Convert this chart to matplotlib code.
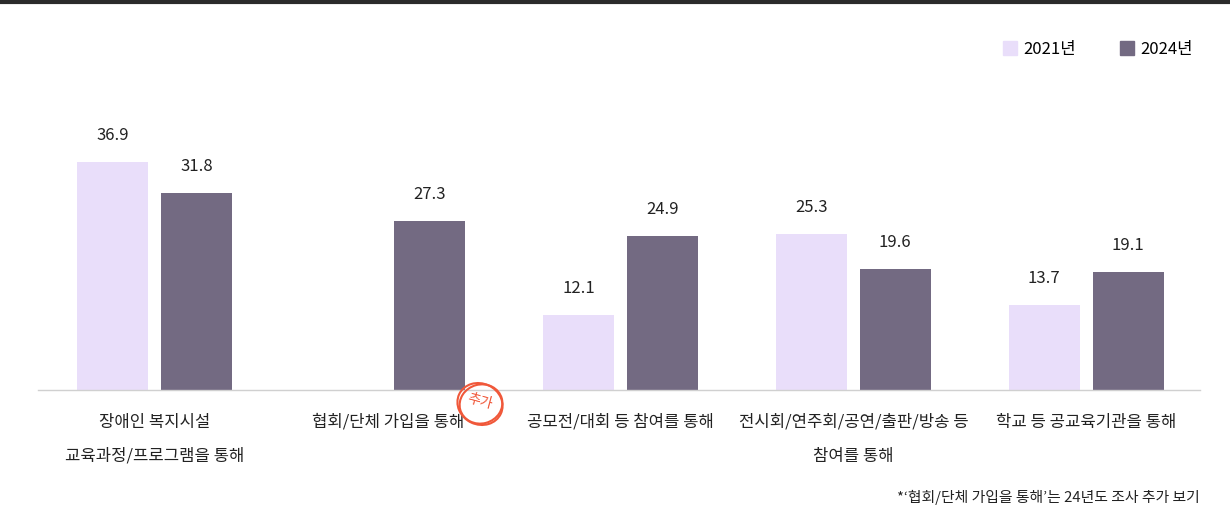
import numpy as np
import matplotlib.pyplot as plt
from matplotlib.patches import Ellipse

plt.rcParams['font.family'] = ['Noto Sans CJK KR', 'DejaVu Sans']

categories = ['장애인 복지시설\n교육과정/프로그램을 통해',
              '협회/단체 가입을 통해',
              '공모전/대회 등 참여를 통해',
              '전시회/연주회/공연/출판/방송 등\n참여를 통해',
              '학교 등 공교육기관을 통해']
y2021 = [36.9, np.nan, 12.1, 25.3, 13.7]
y2024 = [31.8, 27.3, 24.9, 19.6, 19.1]
series_names = ['2021년', '2024년']
colors = ['#E9DEFA', '#736A82']

W, H = 1230, 514
fig = plt.figure(figsize=(W / 100, H / 100), dpi=100)
ax = fig.add_axes([38 / W, (H - 390) / H, (1200 - 38) / W, 370 / H])

x = np.arange(len(categories))
bw = 0.305
off = 0.18
b1 = ax.bar(x - off, y2021, bw, color=colors[0], label=series_names[0])
b2 = ax.bar(x + off, y2024, bw, color=colors[1], label=series_names[1])

for bars, vals in ((b1, y2021), (b2, y2024)):
    for rect, v in zip(bars, vals):
        if np.isnan(v):
            continue
        ax.annotate(f'{v:.1f}', (rect.get_x() + rect.get_width() / 2, v),
                    xytext=(0, 13), textcoords='offset points',
                    ha='center', va='bottom', fontsize=12, color='#222222')

ax.set_xlim(-0.502, 4.489)
ax.set_ylim(0, 370 / 6.18)
for s in ['top', 'right', 'left']:
    ax.spines[s].set_visible(False)
ax.spines['bottom'].set_color('#d0d0d0')
ax.spines['bottom'].set_linewidth(1)
ax.set_yticks([])
ax.set_xticks(x)
ax.set_xticklabels(categories, fontsize=12, color='#222222', linespacing=2.3, va='top')
ax.tick_params(axis='x', length=0, pad=17)

# legend with small square markers
handles = [plt.Line2D([], [], marker='s', ls='', markersize=10, color=c) for c in colors]
fig.legend(handles, series_names, loc='upper right', bbox_to_anchor=(1208 / W, 1 - 26 / H),
           ncol=2, frameon=False, fontsize=12, handletextpad=0.3, columnspacing=2.6,
           handlelength=1.0)

# top rule
fig.add_artist(plt.Line2D([0, 1], [1 - 2 / H, 1 - 2 / H], color='#2b2b2b', lw=3))

# hand-drawn "추가" stamp, sized in inches so it stays round
red = '#F0583A'
cx, cy = 480 / W, 1 - 404 / H
to_in = fig.transFigure + fig.dpi_scale_trans.inverted()
cxi, cyi = to_in.transform((cx, cy))
for w, h, a, dx in ((0.46, 0.41, -25, 0.0), (0.43, 0.39, 15, 0.01)):
    fig.add_artist(Ellipse((cxi + dx, cyi), w, h, angle=a, fill=False,
                           edgecolor=red, lw=1.5, transform=fig.dpi_scale_trans))
fig.text(cx, cy + 3 / H, '추가', color=red, fontsize=10, rotation=-15,
         ha='center', va='center')

fig.text(1200 / W, 1 - 497 / H, "*‘협회/단체 가입을 통해’는 24년도 조사 추가 보기",
         ha='right', va='center', fontsize=10.7, color='#222222')

fig.savefig('out.png', dpi=100)
